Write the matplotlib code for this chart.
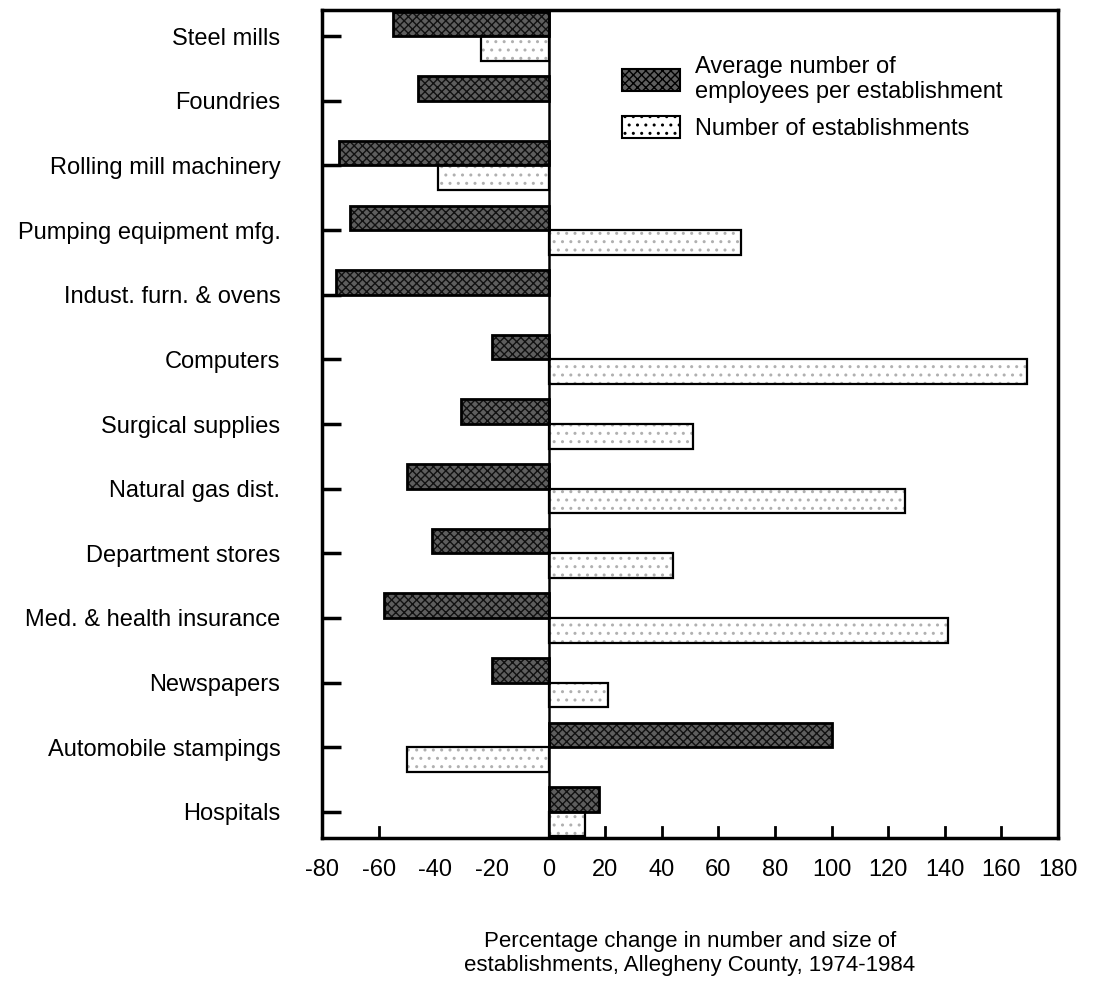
import matplotlib
matplotlib.use("Agg")
import matplotlib.pyplot as plt
import numpy as np
from matplotlib.patches import Patch

plt.rcParams['font.family'] = ['Liberation Sans', 'DejaVu Sans']

categories = ["Steel mills", "Foundries", "Rolling mill machinery", "Pumping equipment mfg.",
              "Indust. furn. & ovens", "Computers", "Surgical supplies", "Natural gas dist.",
              "Department stores", "Med. & health insurance", "Newspapers",
              "Automobile stampings", "Hospitals"]
avg_employees = [-55, -46, -74, -70, -75, -20, -31, -50, -41, -58, -20, 100, 18]
num_establishments = [-24, 0, -39, 68, 0, 169, 51, 126, 44, 141, 21, -50, 13]
xtick_values = [-80, -60, -40, -20, 0, 20, 40, 60, 80, 100, 120, 140, 160, 180]
tickmark_values = [-60, 20, 40, 60, 80, 100, 120, 140, 160]
legend_labels = ["Average number of\nemployees per establishment", "Number of establishments"]
xlabel = "Percentage change in number and size of\nestablishments, Allegheny County, 1974-1984"

fig = plt.figure(figsize=(11.01, 9.81), dpi=100)
ax = fig.add_axes([0.2925, 0.146, 0.6685, 0.8435])

y = np.arange(len(categories))
h = 0.38
# dark bars (above tick)
ax.barh(y - h / 2, avg_employees, height=h, color='#5e5e5e', edgecolor='#111111',
        hatch='xxxx', linewidth=0, zorder=2)
ax.barh(y - h / 2, avg_employees, height=h, fill=False, edgecolor='black', linewidth=2, zorder=3)
# light bars (below tick)
nz = [i for i, v in enumerate(num_establishments) if v != 0]
ax.barh(y[nz] + h / 2, [num_establishments[i] for i in nz], height=h, color='white',
        edgecolor='#b0b0b0', hatch='..', linewidth=0, zorder=2)
ax.barh(y[nz] + h / 2, [num_establishments[i] for i in nz], height=h, fill=False,
        edgecolor='black', linewidth=1.6, zorder=3)

ax.axvline(0, color='black', linewidth=1.8, zorder=4)

ax.set_xlim(-80, 180)
ax.set_ylim(len(categories) - 0.6, -0.4)

ax.set_yticks(y)
ax.set_yticklabels(categories, fontsize=17)
ax.tick_params(axis='y', direction='in', length=14, width=2.5, pad=30)

ax.set_xticks(xtick_values)
ax.set_xticklabels([str(v) for v in xtick_values], fontsize=17)
ax.tick_params(axis='x', length=0, pad=15)
for v in tickmark_values:
    ax.plot([v, v], [len(categories) - 0.6, len(categories) - 0.6 - 0.17], color='black',
            linewidth=2, zorder=5, clip_on=False)

for s in ax.spines.values():
    s.set_linewidth(2.5)

ax.set_xlabel(xlabel, fontsize=16, labelpad=36)

handles = [Patch(facecolor='#5e5e5e', edgecolor='black', hatch='xxxx', linewidth=1.5),
           Patch(facecolor='white', edgecolor='black', hatch='..', linewidth=1.5)]
leg = ax.legend(handles, legend_labels, loc='upper left', bbox_to_anchor=(0.408, 0.945),
                frameon=False, fontsize=17, handlelength=2.45, handleheight=1.06,
                labelspacing=0.55, handletextpad=0.64, borderpad=0, borderaxespad=0)

fig.savefig("out.png", dpi=100)
